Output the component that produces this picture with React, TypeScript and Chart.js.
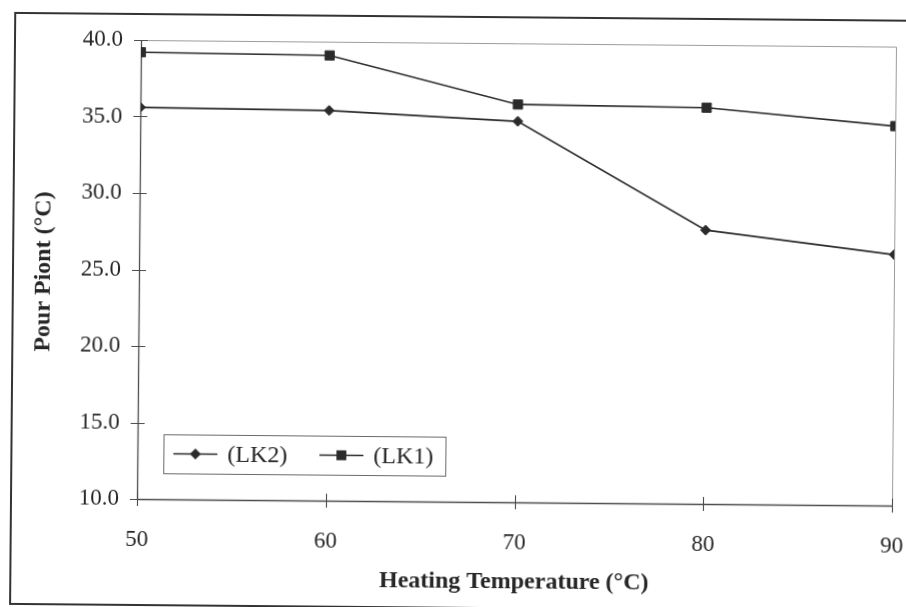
import React, { useEffect, useRef } from "react";
import { Chart, registerables } from "chart.js";

Chart.register(...registerables);

// ---- data ----
const heatingTemps = [50, 60, 70, 80, 90];
const lk2PourPoints = [35.6, 35.5, 34.9, 27.9, 26.4];
const lk1PourPoints = [39.2, 39.1, 36.0, 35.9, 34.8];
const seriesNames = ["(LK2)", "(LK1)"];
const xAxisTitle = "Heating Temperature (°C)";
const yAxisTitle = "Pour Piont (°C)";
const xTickRange = [50, 90, 10]; // min, max, step
const yTickRange = [10, 40, 5];

const SERIF = '"Liberation Serif", "Times New Roman", Times, serif';
const INK = "#262626";
const LINE = "#2b2b2b";

function drawMarker(ctx: CanvasRenderingContext2D, style: string, x: number, y: number, r: number) {
  ctx.beginPath();
  if (style === "rectRot") {
    ctx.moveTo(x, y - r);
    ctx.lineTo(x + r, y);
    ctx.lineTo(x, y + r);
    ctx.lineTo(x - r, y);
    ctx.closePath();
  } else {
    const s = r * Math.SQRT1_2;
    ctx.rect(x - s, y - s, 2 * s, 2 * s);
  }
  ctx.fill();
}

const decorPlugin = {
  id: "decor",
  beforeDatasetsDraw(chart: any) {
    const { ctx, chartArea: a, scales } = chart;
    const xs = scales.x;
    const ys = scales.y;
    ctx.save();
    // light top/right plot border
    ctx.strokeStyle = "#9c9c9c";
    ctx.lineWidth = 1;
    ctx.beginPath();
    ctx.moveTo(a.left, a.top + 0.5);
    ctx.lineTo(a.right + 0.5, a.top + 0.5);
    ctx.lineTo(a.right + 0.5, a.bottom);
    ctx.stroke();
    // axes
    ctx.strokeStyle = "#4d4d4d";
    ctx.lineWidth = 1.3;
    ctx.beginPath();
    ctx.moveTo(a.left + 0.5, a.top);
    ctx.lineTo(a.left + 0.5, a.bottom + 0.5);
    ctx.lineTo(a.right, a.bottom + 0.5);
    ctx.stroke();
    // crossing tick marks
    ctx.lineWidth = 1.1;
    ctx.beginPath();
    ys.ticks.forEach((t: any) => {
      const p = Math.round(ys.getPixelForValue(t.value)) + 0.5;
      ctx.moveTo(a.left - 7, p);
      ctx.lineTo(a.left + 7, p);
    });
    xs.ticks.forEach((t: any) => {
      const p = Math.round(xs.getPixelForValue(t.value)) + 0.5;
      ctx.moveTo(p, a.bottom - 7);
      ctx.lineTo(p, a.bottom + 7);
    });
    ctx.stroke();
    ctx.restore();
  },
  afterDraw(chart: any) {
    const { ctx, chartArea: a } = chart;
    ctx.save();
    ctx.fillStyle = INK;
    ctx.font = `bold 24px ${SERIF}`;
    ctx.textAlign = "center";
    ctx.textBaseline = "middle";
    ctx.fillText(xAxisTitle, (a.left + a.right) / 2, a.bottom + 80);
    ctx.save();
    ctx.translate(a.left - 95, (a.top + a.bottom) / 2 + 3);
    ctx.rotate(-Math.PI / 2);
    ctx.fillText(yAxisTitle, 0, 0);
    ctx.restore();

    // legend box inside the plot, lower left
    const bw = 282;
    const bh = 39;
    const bx = a.left + 26;
    const by = a.bottom - 26 - bh;
    ctx.fillStyle = "#ffffff";
    ctx.fillRect(bx, by, bw, bh);
    ctx.strokeStyle = "#6a6a6a";
    ctx.lineWidth = 1;
    ctx.strokeRect(bx + 0.5, by + 0.5, bw, bh);
    ctx.font = `24px ${SERIF}`;
    ctx.textAlign = "left";
    ctx.textBaseline = "middle";
    chart.data.datasets.forEach((ds: any, i: number) => {
      const lx = bx + 10 + i * 146;
      const cy = by + bh / 2;
      ctx.strokeStyle = ds.borderColor;
      ctx.lineWidth = ds.borderWidth;
      ctx.beginPath();
      ctx.moveTo(lx, cy);
      ctx.lineTo(lx + 44, cy);
      ctx.stroke();
      ctx.fillStyle = ds.borderColor;
      drawMarker(ctx, ds.pointStyle, lx + 22, cy, ds.pointRadius + 0.5);
      ctx.fillStyle = INK;
      ctx.fillText(ds.label, lx + 54, cy + 1);
    });
    ctx.restore();
  },
};

export default function App() {
  const canvasRef = useRef<HTMLCanvasElement | null>(null);

  useEffect(() => {
    if (!canvasRef.current) return;
    const chart = new Chart(canvasRef.current, {
      type: "line",
      data: {
        datasets: [
          {
            label: seriesNames[0],
            data: heatingTemps.map((t, i) => ({ x: t, y: lk2PourPoints[i] })),
            borderColor: LINE,
            backgroundColor: LINE,
            pointBackgroundColor: LINE,
            pointBorderColor: LINE,
            borderWidth: 1.7,
            pointStyle: "rectRot",
            pointRadius: 5,
            pointBorderWidth: 1,
            tension: 0,
          },
          {
            label: seriesNames[1],
            data: heatingTemps.map((t, i) => ({ x: t, y: lk1PourPoints[i] })),
            borderColor: LINE,
            backgroundColor: LINE,
            pointBackgroundColor: LINE,
            pointBorderColor: LINE,
            borderWidth: 1.7,
            pointStyle: "rect",
            pointRadius: 6.5,
            pointBorderWidth: 1,
            tension: 0,
          },
        ],
      },
      options: {
        responsive: false,
        maintainAspectRatio: false,
        animation: false,
        devicePixelRatio: 1,
        layout: { padding: { left: 0, top: 40, right: 14, bottom: 0 } },
        plugins: {
          legend: { display: false },
          tooltip: { enabled: false },
          title: { display: false },
        },
        scales: {
          x: {
            type: "linear",
            min: xTickRange[0],
            max: xTickRange[1],
            ticks: {
              stepSize: xTickRange[2],
              color: INK,
              font: { family: SERIF, size: 23 },
              padding: 27,
              maxRotation: 0,
            },
            grid: { display: false, drawTicks: false },
            border: { display: false },
            afterFit: (s: any) => {
              s.height = 108;
              s.paddingLeft = 0;
              s.paddingRight = 0;
            },
          },
          y: {
            type: "linear",
            min: yTickRange[0],
            max: yTickRange[1],
            ticks: {
              stepSize: yTickRange[2],
              color: INK,
              font: { family: SERIF, size: 23 },
              padding: 18,
              callback: (v: any) => Number(v).toFixed(1),
            },
            grid: { display: false, drawTicks: false },
            border: { display: false },
            afterFit: (s: any) => {
              s.width = 137;
              s.paddingTop = 0;
              s.paddingBottom = 0;
            },
          },
        },
      },
      plugins: [decorPlugin],
    } as any);
    return () => chart.destroy();
  }, []);

  return (
    <div
      style={{
        position: "fixed",
        left: 0,
        top: 0,
        width: 906,
        height: 607,
        background: "#ffffff",
        transform: "rotate(0.5deg)",
        transformOrigin: "137px 499px",
      }}
    >
      <div
        style={{
          position: "absolute",
          left: 10,
          top: 13,
          width: 1000,
          height: 593,
          boxSizing: "border-box",
          border: "2px solid #333333",
        }}
      />
      <canvas
        ref={canvasRef}
        width={906}
        height={607}
        style={{ position: "absolute", left: 0, top: 0, width: 906, height: 607 }}
      />
    </div>
  );
}
